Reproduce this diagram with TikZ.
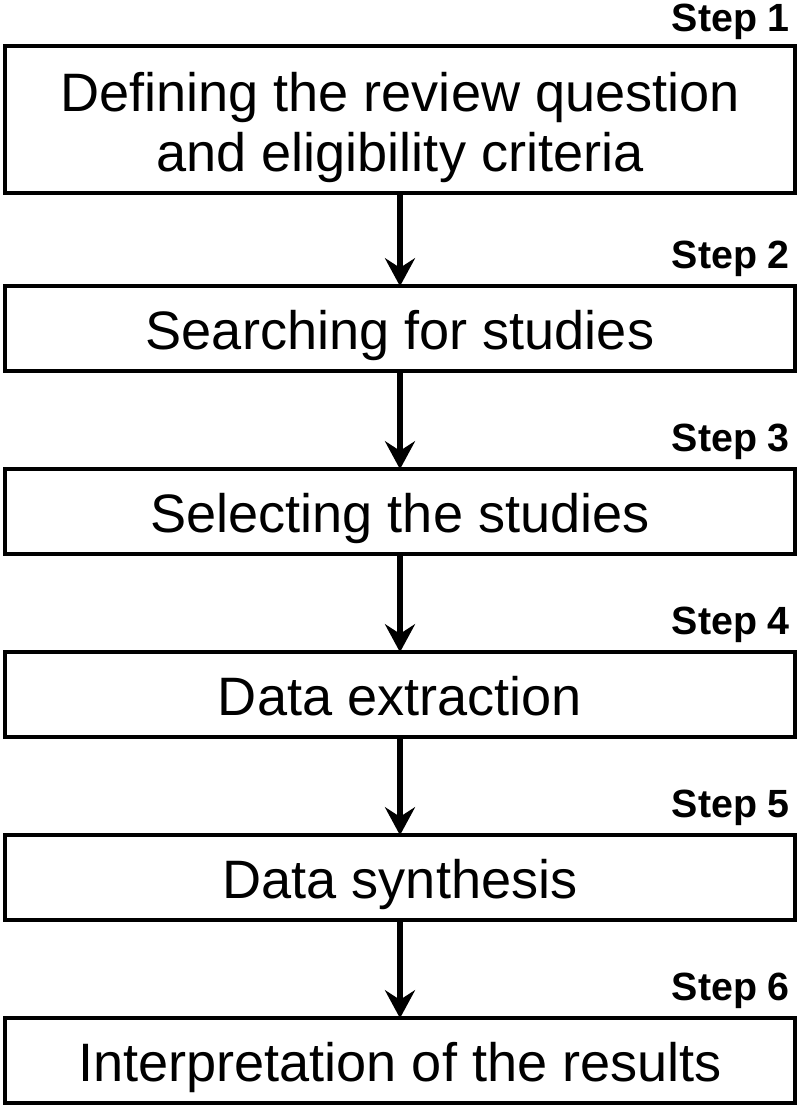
\documentclass[tikz,border=0pt]{standalone}
\usepackage{fontspec}
\setmainfont{Liberation Sans}
\usetikzlibrary{positioning, arrows.meta}

\tikzset{
  stepbox/.style={draw, line width=3.2pt, minimum width=19.75cm, minimum height=2.125cm,
    outer sep=0pt, align=center, font=\fontsize{38.5}{43}\selectfont,
    text height=30pt, text depth=0pt},
  steplabel/.style={font=\fontsize{28}{31}\selectfont\bfseries, anchor=base east, inner sep=0pt}
}

\begin{document}
\begin{tikzpicture}[>={Stealth[length=0.7cm, width=0.75cm, inset=0.24cm]}]
\useasboundingbox (0,0) rectangle (20,-27.725);

\node[stepbox, minimum height=3.675cm, text height=74pt] (b1) at (10,-2.9875) {Defining the review question\\and eligibility criteria};
\node[stepbox, below=2.33cm of b1] (b2) {Searching for studies};
\node[stepbox, below=2.45cm of b2] (b3) {Selecting the studies};
\node[stepbox, below=2.45cm of b3] (b4) {Data extraction};
\node[stepbox, below=2.45cm of b4] (b5) {Data synthesis};
\node[stepbox, below=2.45cm of b5] (b6) {Interpretation of the results};

\foreach \i/\j in {1/2,2/3,3/4,4/5,5/6}
  \draw[->, line width=3.6pt] (b\i.south) -- (b\j.north);

% step labels above the right end of each box
\node[steplabel] (s1) at ([xshift=-0.12cm, yshift=0.36cm]b1.north east) {Step 1};
\foreach \i in {2,...,6}
  \node[steplabel] (s\i) at ([xshift=-0.12cm, yshift=0.45cm]b\i.north east) {Step \i};

\end{tikzpicture}
\end{document}
